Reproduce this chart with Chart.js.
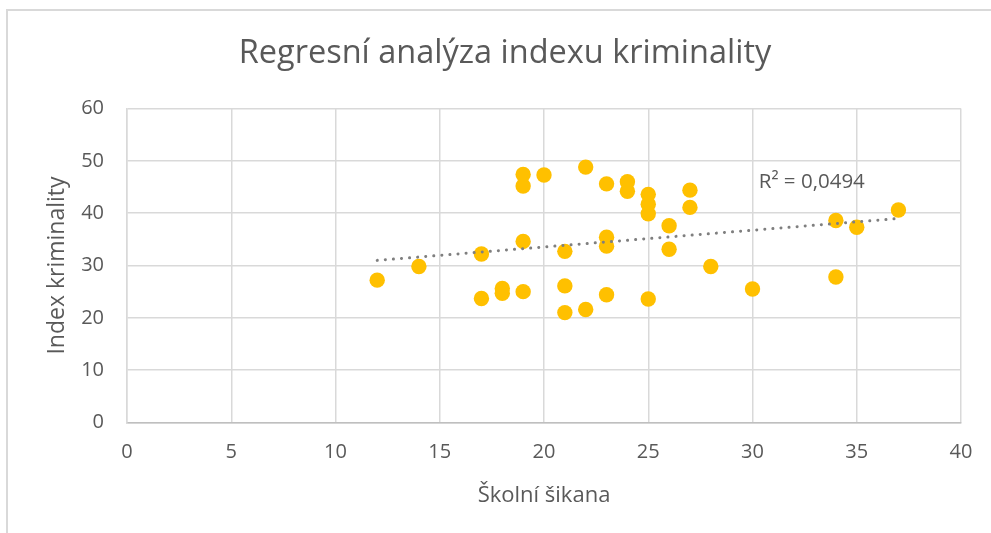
<!DOCTYPE html>
<html><head><meta charset="utf-8">
<script src="https://cdn.jsdelivr.net/npm/chart.js@4.4.0/dist/chart.umd.min.js"></script>
<style>
html,body{margin:0;padding:0;background:#fff;}
#wrap{position:relative;width:991px;height:533px;overflow:hidden;background:#fff;}
#frame{position:absolute;left:6px;top:9px;width:1100px;height:700px;border-left:2px solid #d9d9d9;border-top:2px solid #d9d9d9;}
canvas{position:absolute;left:0;top:0;}
</style></head><body>
<div id="wrap"><div id="frame"></div><canvas id="c" width="991" height="533"></canvas></div>
<script>
const chartTitle = 'Regresní analýza indexu kriminality';
const xAxisTitle = 'Školní šikana';
const yAxisTitle = 'Index kriminality';
const r2Label = 'R² = 0,0494';
const r2LabelAt = [30.3, 45.9];

const schoolBullying = [12, 14, 17, 17, 18, 18, 19, 19, 19, 19, 20, 21, 21, 21, 22, 22, 23, 23, 23, 23, 24, 24, 25, 25, 25, 25, 26, 26, 27, 27, 28, 30, 34, 34, 35, 37];
const crimeIndex   = [27.2, 29.8, 32.2, 23.7, 25.6, 24.7, 25.0, 34.6, 47.4, 45.2, 47.3, 32.7, 26.1, 21.0, 48.8, 21.6, 45.6, 35.4, 33.7, 24.4, 46.0, 44.2, 43.6, 41.7, 39.9, 23.6, 37.6, 33.1, 44.4, 41.1, 29.8, 25.5, 38.6, 27.8, 37.3, 40.6];

const xTickValues = [0, 5, 10, 15, 20, 25, 30, 35, 40];
const yTickValues = [0, 10, 20, 30, 40, 50, 60];

const FONT = "'Open Sans', sans-serif";
const TEXT = '#595959';
const GRID = '#d9d9d9';

const points = schoolBullying.map((x, i) => ({x, y: crimeIndex[i]}));

// least-squares linear trend from the data
const n = schoolBullying.length;
const mx = schoolBullying.reduce((a, b) => a + b, 0) / n;
const my = crimeIndex.reduce((a, b) => a + b, 0) / n;
let sxy = 0, sxx = 0;
for (let i = 0; i < n; i++) { sxy += (schoolBullying[i] - mx) * (crimeIndex[i] - my); sxx += (schoolBullying[i] - mx) ** 2; }
const slope = sxy / sxx, intercept = my - slope * mx;
const xMin = Math.min(...schoolBullying), xMax = Math.max(...schoolBullying);
const trend = [{x: xMin, y: intercept + slope * xMin}, {x: xMax, y: intercept + slope * xMax}];

const r2Plugin = {
  id: 'r2label',
  afterDatasetsDraw(chart) {
    const {ctx, scales: {x, y}} = chart;
    ctx.save();
    ctx.font = "20.5px " + FONT;
    ctx.fillStyle = TEXT;
    ctx.textAlign = 'left';
    ctx.textBaseline = 'middle';
    ctx.fillText(r2Label, x.getPixelForValue(r2LabelAt[0]), y.getPixelForValue(r2LabelAt[1]));
    ctx.restore();
  }
};

new Chart(document.getElementById('c'), {
  type: 'scatter',
  data: {
    datasets: [
      {
        type: 'line',
        data: trend,
        borderColor: '#7f7f7f',
        borderWidth: 3,
        borderDash: [0.1, 8],
        borderCapStyle: 'round',
        pointRadius: 0,
        fill: false,
        order: 0
      },
      {
        data: points,
        backgroundColor: '#FFC000',
        borderWidth: 0,
        pointRadius: 7.7,
        pointHoverRadius: 7.7,
        order: 1
      }
    ]
  },
  options: {
    responsive: false,
    animation: false,
    events: [],
    layout: {padding: {left: 49, right: 30, top: 0, bottom: 0}},
    plugins: {
      legend: {display: false},
      tooltip: {enabled: false},
      title: {
        display: true,
        text: chartTitle,
        color: TEXT,
        font: {family: FONT, size: 32.5, weight: 'normal', lineHeight: 1.2},
        padding: {top: 34.5, bottom: 35}
      }
    },
    scales: {
      x: {
        type: 'linear',
        min: 0, max: 40,
        afterBuildTicks: s => { s.ticks = xTickValues.map(v => ({value: v})); },
        afterFit: s => { s.height = 110.5; },
        grid: {color: GRID, lineWidth: 1.5, drawTicks: false},
        border: {color: '#bfbfbf', width: 1.5},
        ticks: {color: TEXT, padding: 17.5, font: {family: FONT, size: 20}},
        title: {display: true, text: xAxisTitle, color: TEXT, font: {family: FONT, size: 22}, padding: {top: 0, bottom: 23.6}}
      },
      y: {
        type: 'linear',
        min: 0, max: 60,
        afterBuildTicks: s => { s.ticks = yTickValues.map(v => ({value: v})); },
        afterFit: s => { s.width = 78; },
        grid: {color: GRID, lineWidth: 1.5, drawTicks: false},
        border: {color: GRID, width: 1.5},
        ticks: {color: TEXT, padding: 23, font: {family: FONT, size: 20}},
        title: {display: true, text: yAxisTitle, color: TEXT, font: {family: FONT, size: 23}, padding: {top: -5.5, bottom: 0}}
      }
    }
  },
  plugins: [r2Plugin]
});
</script>
</body></html>
